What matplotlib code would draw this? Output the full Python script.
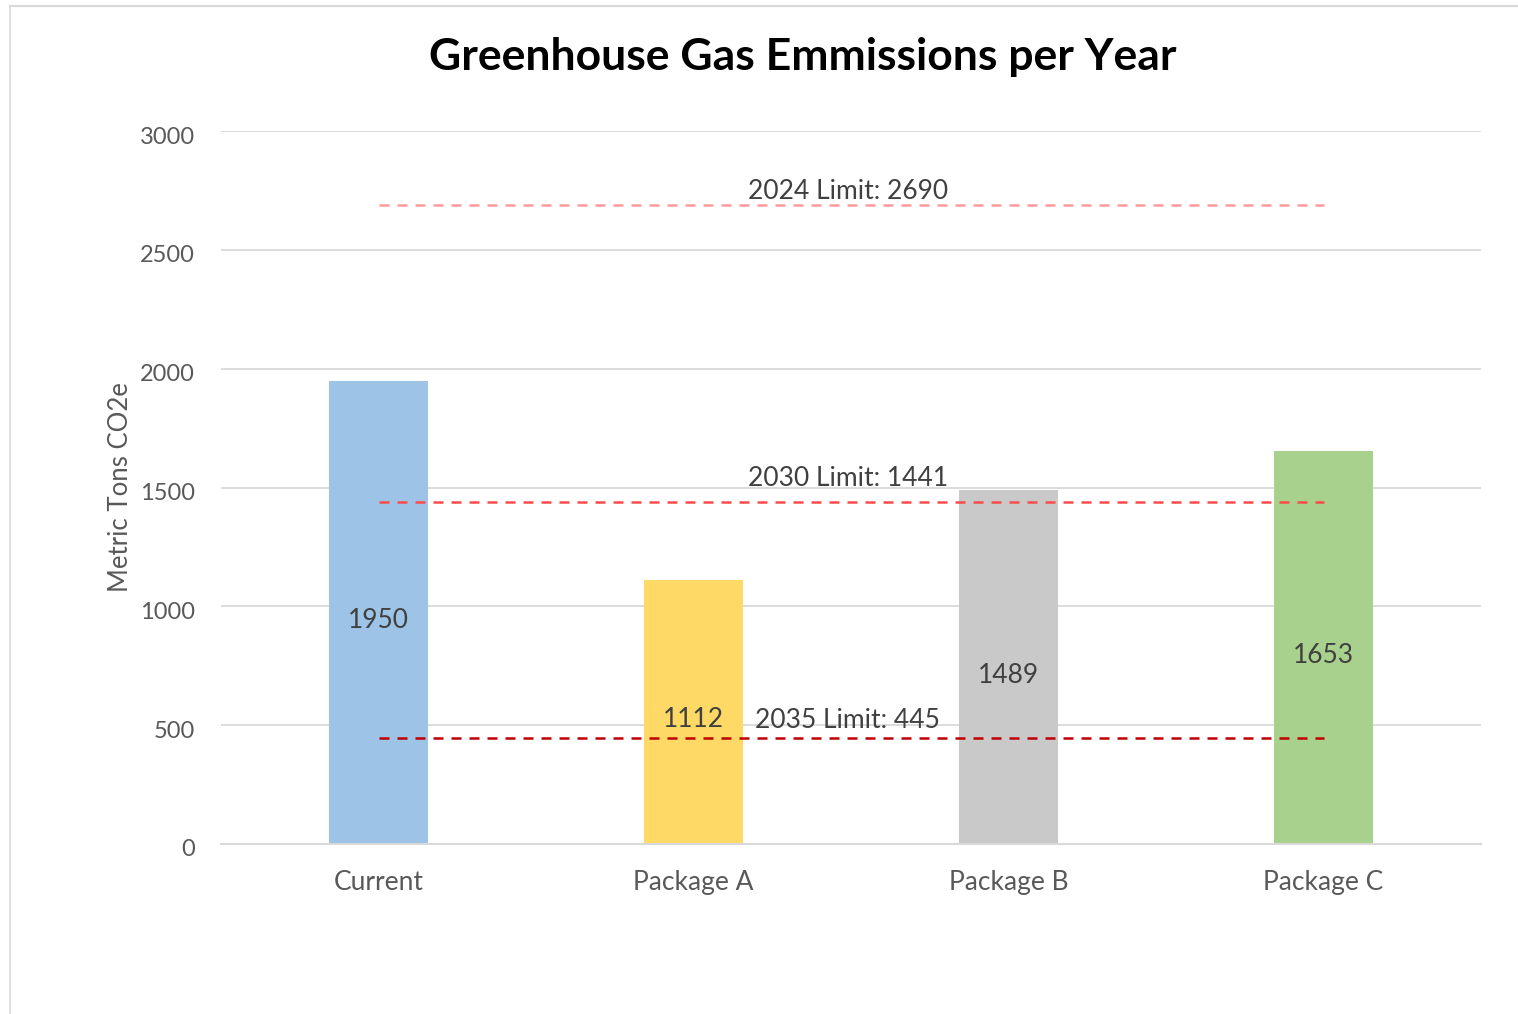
import matplotlib
matplotlib.use('Agg')
import matplotlib.pyplot as plt
import matplotlib.transforms as mtransforms
from matplotlib.lines import Line2D

#===============Data============================
categories = ['Current', 'Package A', 'Package B', 'Package C']
emissions = [1950, 1112, 1489, 1653]
bar_colors = ['#9DC3E6', '#FFD966', '#C9C9C9', '#A9D18E']

limit_labels = ['2024 Limit: 2690', '2030 Limit: 1441', '2035 Limit: 445']
limit_values = [2690, 1441, 445]
limit_colors = ['#FF9B9B', '#FF4B4B', '#C00000']

y_ticks = [0, 500, 1000, 1500, 2000, 2500, 3000]

#===============Plot============================
plt.rcParams['font.family'] = ['Lato', 'DejaVu Sans']
W, H = 1518, 1014
fig = plt.figure(figsize=(W / 100, H / 100), dpi=100)

# frame of the original chart object (top and left edges)
fig.add_artist(Line2D([10 / W, 10 / W], [0, 1 - 6 / H], color='#D9D9D9', lw=1.2))
fig.add_artist(Line2D([10 / W, 1], [1 - 6 / H, 1 - 6 / H], color='#D9D9D9', lw=1.5))

ax = fig.add_axes([221 / W, 1 - 844 / H, (1481 - 221) / W, (844 - 131) / H])
px = 3000 / (844 - 131)   # data units per pixel

x = list(range(len(categories)))
ax.bar(x, emissions, width=0.314, color=bar_colors, zorder=2)
for xi, v in zip(x, emissions):
    ax.text(xi, v / 2 - 8 * px, str(v), ha='center', va='center', fontsize=19,
            color='#404040', zorder=4)

# label offsets above each line (pixels)
label_off = [13, 23, 18]
for lab, val, col, off in zip(limit_labels, limit_values, limit_colors, label_off):
    ax.plot([x[0], x[-1]], [val, val], color=col, lw=1.8,
            dashes=(4, 3.2), zorder=3)
    ax.text((x[0] + x[-1]) / 2 - 0.01, val + off * px, lab, ha='center', va='center',
            fontsize=19, color='#404040', zorder=4)

ax.set_xlim(-0.5, 3.5)
ax.set_ylim(0, 3000)
ax.set_yticks(y_ticks)
ax.set_xticks(x)
ax.set_xticklabels(categories)
ax.tick_params(axis='both', length=0, labelcolor='#595959')
ax.tick_params(axis='x', pad=19, labelsize=19)
ax.tick_params(axis='y', pad=19, labelsize=17)
shift = mtransforms.ScaledTranslation(0, -4 / 100, fig.dpi_scale_trans)
for t in ax.get_yticklabels():
    t.set_transform(t.get_transform() + shift)
ax.grid(axis='y', color='#D9D9D9', lw=1.3, zorder=0)
for s in ['top', 'right', 'left']:
    ax.spines[s].set_visible(False)
ax.spines['bottom'].set_color('#D9D9D9')
ax.spines['bottom'].set_linewidth(1.5)

ax.set_ylabel('Metric Tons CO2e', fontsize=18.5, color='#595959', labelpad=5)

fig.text(803 / W, 1 - 57 / H, 'Greenhouse Gas Emmissions per Year',
         ha='center', va='center', fontsize=32, fontweight='bold', color='black')

fig.savefig('out.png', dpi=100, facecolor='white')
